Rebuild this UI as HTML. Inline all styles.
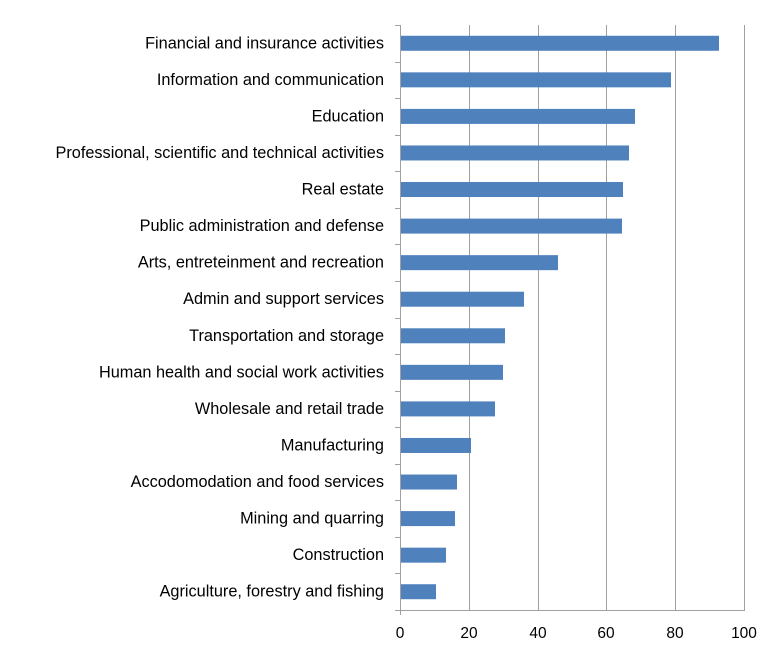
<!DOCTYPE html>
<html><head><style>body{margin:0;background:#fff}</style></head><body>
<svg width="776" height="654" xmlns="http://www.w3.org/2000/svg" font-family="Liberation Sans, sans-serif">
<g stroke="#a0a0a0" stroke-width="1">
<line x1="469.5" y1="25" x2="469.5" y2="610"/><line x1="538.5" y1="25" x2="538.5" y2="610"/>
<line x1="606.5" y1="25" x2="606.5" y2="610"/><line x1="675.5" y1="25" x2="675.5" y2="610"/>
<line x1="744.5" y1="25" x2="744.5" y2="610"/>
<line x1="400.5" y1="25" x2="400.5" y2="615"/>
<line x1="395" y1="610.5" x2="745" y2="610.5"/>
</g>
<g id="bars" fill="#4f81bd"></g>
<g id="ticks" stroke="#a0a0a0"></g>
<g id="lab" font-size="16.3" fill="#000" text-anchor="end"></g>
<g font-size="15.5" text-anchor="middle">
<text x="400" y="638">0</text><text x="469" y="638">20</text><text x="538" y="638">40</text>
<text x="606" y="638">60</text><text x="675" y="638">80</text><text x="744" y="638">100</text>
</g>
<script>
var names=["Financial and insurance activities","Information and communication","Education","Professional, scientific and technical activities","Real estate","Public administration and defense","Arts, entreteinment and recreation","Admin and support services","Transportation and storage","Human health and social work activities","Wholesale and retail trade","Manufacturing","Accodomodation and food services","Mining and quarring","Construction","Agriculture, forestry and fishing"];
var ends=[719,671,635,629,623,622,558,524,505,503,495,471,457,455,446,436];
var ns="http://www.w3.org/2000/svg",step=585/16;
for(var i=0;i<16;i++){var c=25+step*(i+0.5);
var r=document.createElementNS(ns,"rect");r.setAttribute("x",401);r.setAttribute("y",c-7.5);r.setAttribute("width",ends[i]-401);r.setAttribute("height",15);document.getElementById("bars").appendChild(r);
var t=document.createElementNS(ns,"text");t.setAttribute("x",384);t.setAttribute("y",c+5);t.textContent=names[i];document.getElementById("lab").appendChild(t);}
for(var i=0;i<=16;i++){var y=Math.round(25+step*i)+0.5;var l=document.createElementNS(ns,"line");l.setAttribute("x1",395);l.setAttribute("x2",400);l.setAttribute("y1",y);l.setAttribute("y2",y);document.getElementById("ticks").appendChild(l);}
</script>
</svg>
</body></html>
